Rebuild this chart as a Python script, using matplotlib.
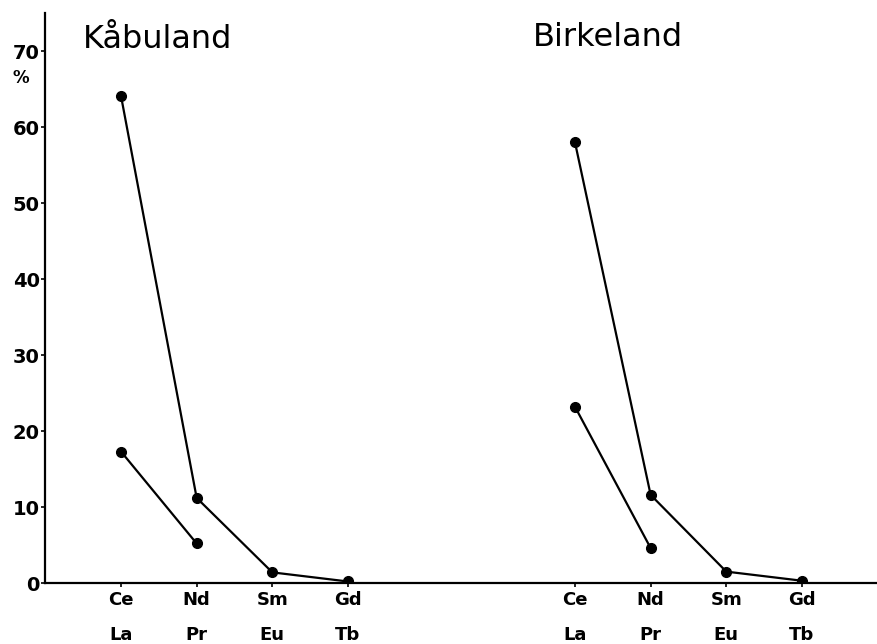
import matplotlib

matplotlib.use("Agg")
import matplotlib.pyplot as plt

# === Data ===
upper_labels = ["Ce", "Nd", "Sm", "Gd"]
lower_labels = ["La", "Pr", "Eu", "Tb"]

kab_x = [1, 2, 3, 4]
bir_x = [7, 8, 9, 10]

# Ce, Nd, Sm, Gd series (%)
kab_main = [64.1, 11.2, 1.4, 0.2]
bir_main = [58.0, 11.6, 1.5, 0.3]

# La, Pr series (%)
kab_la_pr = [17.3, 5.2]
bir_la_pr = [23.2, 4.6]

y_ticks = [0, 10, 20, 30, 40, 50, 60, 70]

# === Plot ===
fig = plt.figure(figsize=(8.77, 6.44), dpi=100)
ax = fig.add_axes([0.0517, 0.0947, 0.949, 0.885])

style = dict(color="black", linewidth=1.6, marker="o", markersize=7)
ax.plot(kab_x, kab_main, **style)
ax.plot(kab_x[:2], kab_la_pr, **style)
ax.plot(bir_x, bir_main, **style)
ax.plot(bir_x[:2], bir_la_pr, **style)

ax.set_xlim(0, 11)
ax.set_ylim(0, 75)
ax.spines["top"].set_visible(False)
ax.spines["right"].set_visible(False)
ax.spines["left"].set_linewidth(1.6)
ax.spines["bottom"].set_linewidth(1.6)

ax.set_yticks(y_ticks)
ax.set_yticklabels([str(v) for v in y_ticks], fontsize=14, fontweight="bold")
ax.tick_params(axis="y", length=3, width=1.2, pad=1)

ax.set_xticks(kab_x + bir_x)
ax.set_xticklabels([f"{u}\n\n{l}" for u, l in zip(upper_labels + upper_labels,
                                                   lower_labels + lower_labels)],
                   fontsize=13, fontweight="bold", linespacing=0.95)
ax.tick_params(axis="x", length=3, width=1.2, pad=3)

ax.text(-0.32, 66.4, "%", fontsize=12, fontweight="bold", ha="center", va="center",
        clip_on=False)

ax.text(0.49, 71.5, "Kåbuland", fontsize=23, ha="left", va="center")
ax.text(6.45, 71.8, "Birkeland", fontsize=23, ha="left", va="center")

fig.savefig("out.png", dpi=100)
